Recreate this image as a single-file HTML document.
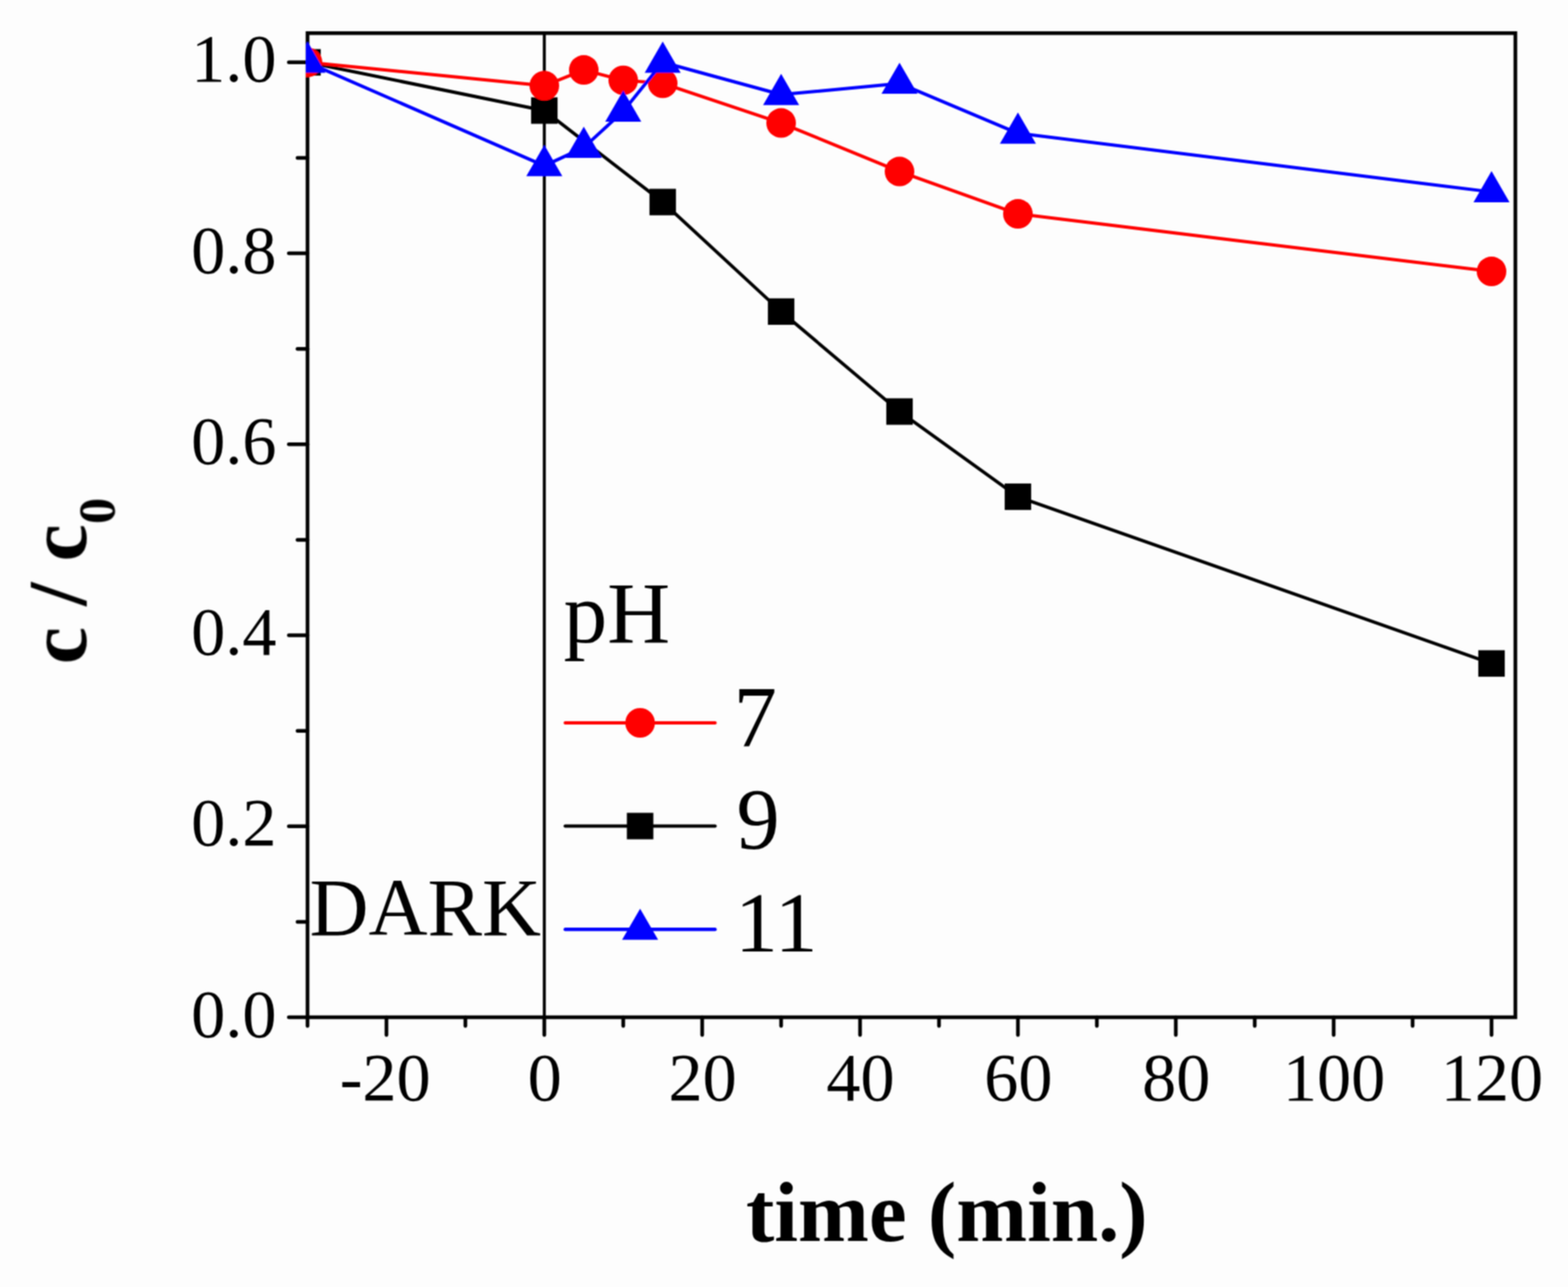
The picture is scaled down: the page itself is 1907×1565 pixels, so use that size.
<!DOCTYPE html><html><head><meta charset="utf-8"><title>c/c0 vs time</title><style>html,body{margin:0;padding:0;background:#fdfdfd;}svg{display:block;}text{font-family:"Liberation Serif","Times New Roman",serif;}</style></head><body>
<svg width="1907" height="1565" viewBox="0 0 1907 1565">
<rect width="1907" height="1565" fill="#fdfdfd"/>
<defs><filter id="soft" filterUnits="userSpaceOnUse" x="0" y="0" width="1907" height="1565"><feConvolveMatrix order="3" kernelMatrix="1 2 1 2 4 2 1 2 1" divisor="16" edgeMode="duplicate" preserveAlpha="false"/></filter><clipPath id="cp"><rect x="372" y="38.3" width="1473" height="1200.7"/></clipPath></defs><g filter="url(#soft)">
<g stroke="#000" stroke-width="4.5" fill="none">
<rect x="374" y="40.3" width="1469" height="1196.7"/>
<line x1="662" y1="40.3" x2="662" y2="1237" stroke-width="3.6"/>
<line x1="351.25" y1="1237" x2="374" y2="1237" stroke-linecap="round"/>
<line x1="361.8" y1="1120.88" x2="374" y2="1120.88" stroke-linecap="round"/>
<line x1="351.25" y1="1004.76" x2="374" y2="1004.76" stroke-linecap="round"/>
<line x1="361.8" y1="888.64" x2="374" y2="888.64" stroke-linecap="round"/>
<line x1="351.25" y1="772.52" x2="374" y2="772.52" stroke-linecap="round"/>
<line x1="361.8" y1="656.4" x2="374" y2="656.4" stroke-linecap="round"/>
<line x1="351.25" y1="540.28" x2="374" y2="540.28" stroke-linecap="round"/>
<line x1="361.8" y1="424.16" x2="374" y2="424.16" stroke-linecap="round"/>
<line x1="351.25" y1="308.04" x2="374" y2="308.04" stroke-linecap="round"/>
<line x1="361.8" y1="191.92" x2="374" y2="191.92" stroke-linecap="round"/>
<line x1="351.25" y1="75.8" x2="374" y2="75.8" stroke-linecap="round"/>
<line x1="374" y1="1237" x2="374" y2="1247.5" stroke-linecap="round"/>
<line x1="470" y1="1237" x2="470" y2="1258.5" stroke-linecap="round"/>
<line x1="566" y1="1237" x2="566" y2="1247.5" stroke-linecap="round"/>
<line x1="662" y1="1237" x2="662" y2="1258.5" stroke-linecap="round"/>
<line x1="758" y1="1237" x2="758" y2="1247.5" stroke-linecap="round"/>
<line x1="854" y1="1237" x2="854" y2="1258.5" stroke-linecap="round"/>
<line x1="950" y1="1237" x2="950" y2="1247.5" stroke-linecap="round"/>
<line x1="1046" y1="1237" x2="1046" y2="1258.5" stroke-linecap="round"/>
<line x1="1142" y1="1237" x2="1142" y2="1247.5" stroke-linecap="round"/>
<line x1="1238" y1="1237" x2="1238" y2="1258.5" stroke-linecap="round"/>
<line x1="1334" y1="1237" x2="1334" y2="1247.5" stroke-linecap="round"/>
<line x1="1430" y1="1237" x2="1430" y2="1258.5" stroke-linecap="round"/>
<line x1="1526" y1="1237" x2="1526" y2="1247.5" stroke-linecap="round"/>
<line x1="1622" y1="1237" x2="1622" y2="1258.5" stroke-linecap="round"/>
<line x1="1718" y1="1237" x2="1718" y2="1247.5" stroke-linecap="round"/>
<line x1="1814" y1="1237" x2="1814" y2="1258.5" stroke-linecap="round"/>
</g>
<g font-size="83" fill="#000" text-anchor="end">
<text x="336.3" y="1260.5">0.0</text>
<text x="336.3" y="1028.26">0.2</text>
<text x="336.3" y="796.02">0.4</text>
<text x="336.3" y="563.78">0.6</text>
<text x="336.3" y="331.54">0.8</text>
<text x="336.3" y="99.3">1.0</text>
</g>
<g font-size="83" fill="#000" text-anchor="middle">
<text x="468.5" y="1338.3">-20</text>
<text x="662.5" y="1338.3">0</text>
<text x="854.5" y="1338.3">20</text>
<text x="1046.5" y="1338.3">40</text>
<text x="1238.5" y="1338.3">60</text>
<text x="1430.5" y="1338.3">80</text>
<text x="1622.5" y="1338.3">100</text>
<text x="1814.5" y="1338.3">120</text>
</g>
<g clip-path="url(#cp)">
<polyline points="374,75.8 662,134.44 806,245.68 950,378.87 1094,500.45 1238,604.03 1814,806.78" fill="none" stroke="#000" stroke-width="4.0" stroke-linejoin="round"/>
<rect x="357.9" y="59.7" width="32.2" height="32.2" fill="#000"/>
<rect x="645.9" y="118.34" width="32.2" height="32.2" fill="#000"/>
<rect x="789.9" y="229.58" width="32.2" height="32.2" fill="#000"/>
<rect x="933.9" y="362.77" width="32.2" height="32.2" fill="#000"/>
<rect x="1077.9" y="484.35" width="32.2" height="32.2" fill="#000"/>
<rect x="1221.9" y="587.93" width="32.2" height="32.2" fill="#000"/>
<rect x="1797.9" y="790.68" width="32.2" height="32.2" fill="#000"/>
<polyline points="374,75.8 662,104.25 710,85.09 758,97.63 806,101.35 950,149.54 1094,208.53 1238,260.08 1814,330.1" fill="none" stroke="#f00" stroke-width="4.0" stroke-linejoin="round"/>
<circle cx="374" cy="75.8" r="18" fill="#f00"/>
<circle cx="662" cy="104.25" r="18" fill="#f00"/>
<circle cx="710" cy="85.09" r="18" fill="#f00"/>
<circle cx="758" cy="97.63" r="18" fill="#f00"/>
<circle cx="806" cy="101.35" r="18" fill="#f00"/>
<circle cx="950" cy="149.54" r="18" fill="#f00"/>
<circle cx="1094" cy="208.53" r="18" fill="#f00"/>
<circle cx="1238" cy="260.08" r="18" fill="#f00"/>
<circle cx="1814" cy="330.1" r="18" fill="#f00"/>
<polyline points="374,75.8 662,201.56 710,179.38 758,135.37 806,75.8 950,115.05 1094,101.46 1238,162.08 1814,233.37" fill="none" stroke="#00f" stroke-width="4.0" stroke-linejoin="round"/>
<polygon points="374,50.5 352.09,88.45 395.91,88.45" fill="#00f"/>
<polygon points="662,176.26 640.09,214.21 683.91,214.21" fill="#00f"/>
<polygon points="710,154.08 688.09,192.03 731.91,192.03" fill="#00f"/>
<polygon points="758,110.07 736.09,148.02 779.91,148.02" fill="#00f"/>
<polygon points="806,50.5 784.09,88.45 827.91,88.45" fill="#00f"/>
<polygon points="950,89.75 928.09,127.7 971.91,127.7" fill="#00f"/>
<polygon points="1094,76.16 1072.09,114.11 1115.91,114.11" fill="#00f"/>
<polygon points="1238,136.78 1216.09,174.73 1259.91,174.73" fill="#00f"/>
<polygon points="1814,208.07 1792.09,246.02 1835.91,246.02" fill="#00f"/>
</g>
<text x="376.6" y="1137" font-size="99.3" fill="#000">DARK</text>
<text x="685.5" y="781" font-size="106" fill="#000">pH</text>
<line x1="687.5" y1="879" x2="869.6" y2="879" stroke="#f00" stroke-width="4.2" stroke-linecap="round"/>
<circle cx="778.5" cy="879" r="18" fill="#f00"/>
<line x1="687.5" y1="1004.5" x2="869.6" y2="1004.5" stroke="#000" stroke-width="4.2" stroke-linecap="round"/>
<rect x="762.4" y="988.4" width="32.2" height="32.2" fill="#000"/>
<line x1="687.5" y1="1130.2" x2="869.6" y2="1130.2" stroke="#00f" stroke-width="4.2" stroke-linecap="round"/>
<polygon points="778.5,1104.9 756.59,1142.85 800.41,1142.85" fill="#00f"/>
<text x="892.3" y="907.9" font-size="105" fill="#000">7</text>
<text x="895.8" y="1032.2" font-size="105" fill="#000">9</text>
<text x="894.1" y="1157" font-size="104" fill="#000">11</text>
<text x="1151.5" y="1508.5" font-size="103.5" font-weight="bold" text-anchor="middle" fill="#000">time (min.)</text>
<text transform="translate(104.5,706.5) rotate(-90)" font-size="102.5" font-weight="bold" text-anchor="middle" fill="#000">c / c<tspan font-size="64" dy="35.4">0</tspan></text>
</g></svg></body></html>
